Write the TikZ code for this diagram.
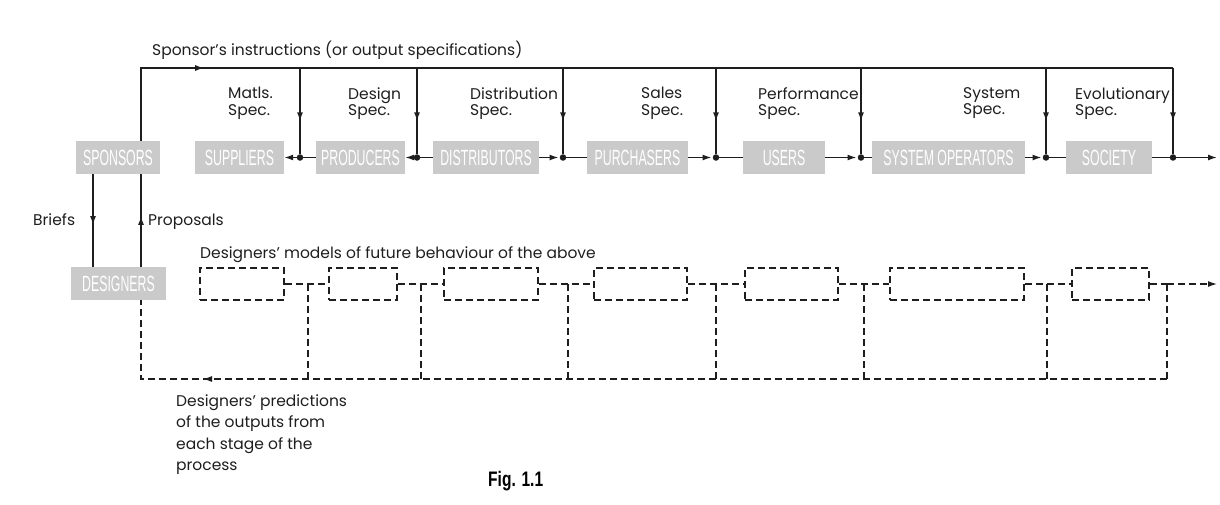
\documentclass[tikz,border=0pt]{standalone}
\usepackage{fontspec}
\setmainfont{Poppins}
\newfontfamily\boxfont[FakeStretch=0.56]{Liberation Sans}
\newfontfamily\figfont[FakeStretch=0.74]{Liberation Sans}
\usetikzlibrary{arrows.meta,decorations.markings,calc}
\definecolor{boxgray}{RGB}{202,202,202}
\definecolor{ink}{RGB}{30,30,30}
\begin{document}
\begin{tikzpicture}[x=1pt,y=-1pt,
  gbox/.style={fill=boxgray, minimum height=33pt, inner sep=0pt, text=white,
    font=\boxfont\fontsize{22}{22}\selectfont},
  dbox/.style={draw=ink, dash pattern=on 7pt off 4pt, line width=1.2pt,
    minimum height=32pt, inner sep=0pt},
  lbl/.style={inner sep=0pt, text=ink, font=\fontsize{15.5}{16.5}\selectfont, align=left},
  solidline/.style={draw=ink, line width=1.5pt},
  dline/.style={draw=ink, line width=1.2pt, dash pattern=on 7pt off 4pt},
  tip/.style={-{Latex[length=9pt,width=6pt]}},
  midarrow/.style={postaction={decorate}, decoration={markings,
    mark=at position #1 with {\arrow{Latex[length=9pt,width=6pt]}}}},
  jdot/.style={circle, fill=ink, inner sep=0pt, minimum size=6.5pt}
]
\useasboundingbox (0,0) rectangle (1220,504);

% ---- top row boxes
\node[gbox, minimum width=84pt]  (sponsors)     at (118,157.5)   {SPONSORS};
\node[gbox, minimum width=89pt]  (suppliers)    at (239.5,157.5) {SUPPLIERS};
\node[gbox, minimum width=89pt]  (producers)    at (360.5,157.5) {PRODUCERS};
\node[gbox, minimum width=106pt] (distributors) at (486,157.5)   {DISTRIBUTORS};
\node[gbox, minimum width=101pt] (purchasers)   at (637.5,157.5) {PURCHASERS};
\node[gbox, minimum width=82pt]  (users)        at (784,157.5)   {USERS};
\node[gbox, minimum width=153pt] (sysops)       at (948.5,157.5) {SYSTEM OPERATORS};
\node[gbox, minimum width=86pt]  (society)      at (1109,157.5)  {SOCIETY};
\node[gbox, minimum width=95pt]  (designers)    at (118.5,283.5) {DESIGNERS};

% ---- helper coordinates
\coordinate (cx) at (141,0);
\coordinate (bx) at (93,0);
\coordinate (topL) at (141,68);
\foreach \i/\x in {1/300,2/417,3/563,4/716,5/861,6/1046,7/1173}{
  \coordinate (d\i) at (\x,68);
  \node[jdot] (j\i) at (\x,157.5) {};
}
\coordinate (rowend) at (1217,157.5);

% ---- labels
\node[lbl, anchor=base west] (tinstr) at (152,55) {Sponsor's instructions (or output specifications)};
\node[lbl, anchor=north west] (lmat)  at (228,87)  {Matls.\\Spec.};
\node[lbl, anchor=north west] (ldes)  at (348,87)  {Design\\Spec.};
\node[lbl, anchor=north west] (ldist) at (470,87)  {Distribution\\Spec.};
\node[lbl, anchor=north west] (lsal)  at (641,87)  {Sales\\Spec.};
\node[lbl, anchor=north west] (lperf) at (758,87)  {Performance\\Spec.};
\node[lbl, anchor=north west] (lsys)  at (963,87)  {System\\Spec.};
\node[lbl, anchor=north west] (levo)  at (1075,87) {Evolutionary\\Spec.};
\node[lbl, anchor=base west] (lbrief) at (33,225)  {Briefs};
\node[lbl, anchor=base west] (lprop)  at (148,225) {Proposals};
\node[lbl, anchor=base west] (lmodel) at (200,258) {Designers' models of future behaviour of the above};
\node[lbl, anchor=north west, font=\fontsize{15.5}{21.5}\selectfont] (lpred) at (176,394)
  {Designers' predictions\\of the outputs from\\each stage of the\\process};
\node[inner sep=0pt, anchor=base west, font=\figfont\bfseries\fontsize{21}{21}\selectfont] (fig) at (488,486) {Fig. 1.1};

% ---- sponsor's instruction line and drops
\draw[solidline, midarrow=136pt] (sponsors.north -| cx) -- (topL) -- (d7);
\foreach \i in {1,...,7}{
  \draw[solidline, midarrow=0.62] (d\i) -- (j\i);
}

% ---- main row connectors
\draw[solidline, tip] (j1) -- (suppliers.east);
\draw[solidline] (j1) -- (producers.west);
\draw[solidline, tip] (j2) -- (producers.east);
\draw[solidline] (j2) -- (distributors.west);
\draw[solidline, tip, shorten >=1pt] (distributors.east) -- (j3);
\draw[solidline] (j3) -- (purchasers.west);
\draw[solidline, tip, shorten >=1pt] (purchasers.east) -- (j4);
\draw[solidline] (j4) -- (users.west);
\draw[solidline, tip, shorten >=1pt] (users.east) -- (j5);
\draw[solidline] (j5) -- (sysops.west);
\draw[solidline, tip, shorten >=1pt] (sysops.east) -- (j6);
\draw[solidline] (j6) -- (society.west);
\draw[solidline] (society.east) -- (j7);
\draw[solidline, tip] (j7) -- (rowend);

% ---- briefs / proposals
\draw[solidline, midarrow=0.55] (sponsors.south -| bx) -- (designers.north -| bx);
\draw[solidline, midarrow=0.55] (designers.north -| cx) -- (sponsors.south -| cx);

% ---- designers' models (dashed)
\node[dbox, minimum width=84pt]  (m1) at (242,284)    {};
\node[dbox, minimum width=68pt]  (m2) at (363,284)    {};
\node[dbox, minimum width=94pt]  (m3) at (491,284)    {};
\node[dbox, minimum width=93pt]  (m4) at (640.5,284)  {};
\node[dbox, minimum width=93pt]  (m5) at (791.5,284)  {};
\node[dbox, minimum width=134pt] (m6) at (957,284)    {};
\node[dbox, minimum width=77pt]  (m7) at (1110.5,284) {};
\foreach \i/\x in {1/308,2/421,3/568,4/716,5/864,6/1047,7/1167}{
  \coordinate (k\i) at (\x,284);
  \coordinate (b\i) at (\x,379);
  \draw[dline] (k\i) -- (b\i);
}
\coordinate (bL) at (141,379);
\coordinate (dend) at (1217,284);
\foreach \a/\b in {1/2,2/3,3/4,4/5,5/6,6/7}{
  \draw[dline] (m\a.east) -- (k\a) -- (m\b.west);
}
\draw[dline] (m7.east) -- (k7);
\draw[dline, tip] (k7) -- (dend);
\draw[dline, midarrow=964pt] (b7) -- (bL) -- (designers.south -| cx);
\end{tikzpicture}
\end{document}
